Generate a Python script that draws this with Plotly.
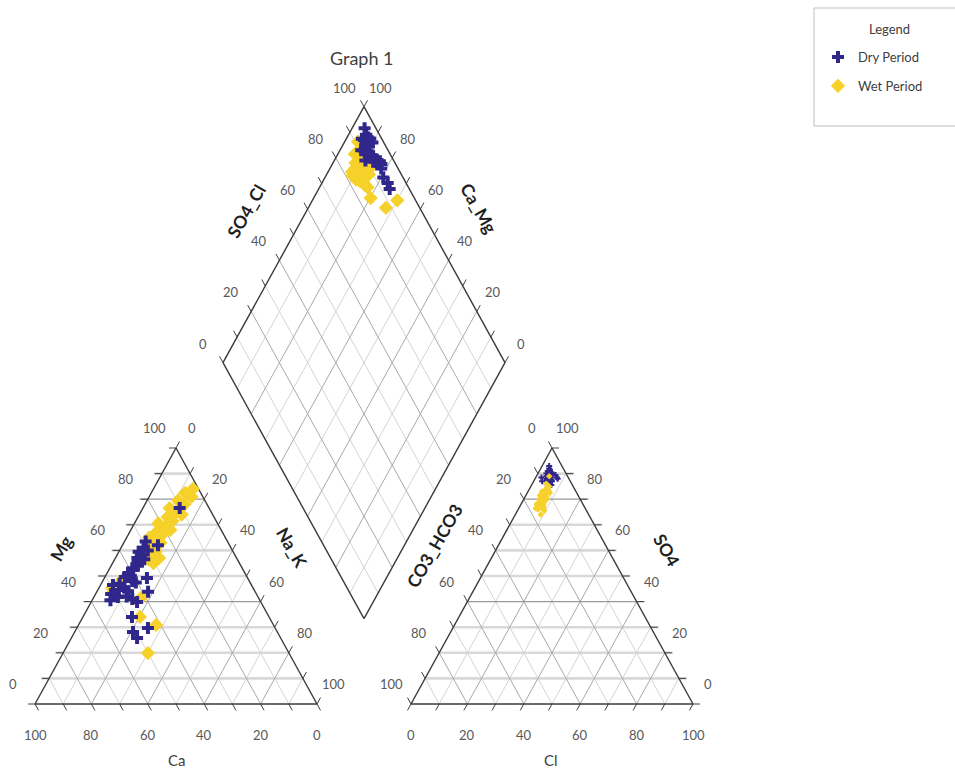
import math
import plotly.graph_objects as go

# ---------------- sample compositions (% of meq/L) ----------------
# Dry period: cations
dry_ca = [10.4, 25.4, 29.0, 31.0, 33.5, 33.5, 35.2, 35.9, 36.5, 39.0, 39.0, 41.5,
          41.0, 43.3, 35.7, 41.5, 46.5, 49.1, 45.5, 48.0, 38.0, 51.5, 46.5, 49.7,
          53.0, 43.9, 45.0, 48.6, 45.1, 51.2, 50.9, 33.0, 30.0, 40.5, 45.0]
dry_mg = [76.6, 62.0, 63.5, 61.0, 59.5, 58.0, 57.0, 55.5, 54.0, 53.0, 52.4, 51.0,
          50.0, 49.6, 49.2, 48.0, 47.0, 46.5, 45.5, 44.5, 43.8, 43.0, 42.0, 41.8,
          40.5, 39.8, 41.0, 34.0, 29.7, 28.1, 25.8, 56.5, 60.0, 47.5, 44.0]
dry_na_k = [13.0, 12.6, 7.5, 8.0, 7.0, 8.5, 7.8, 8.6, 9.5, 8.0, 8.6, 7.5,
            9.0, 7.1, 15.1, 10.5, 6.5, 4.4, 9.0, 7.5, 18.2, 5.5, 11.5, 8.5,
            6.5, 16.3, 14.0, 17.4, 25.2, 20.7, 23.3, 10.5, 10.0, 12.0, 11.0]
# Dry period: anions
dry_cl = [4.5, 5.0, 3.5, 4.0, 3.0, 5.5, 4.0, 6.0, 3.5, 5.0, 4.5, 2.5,
          6.5, 3.0, 5.5, 4.0, 5.0, 6.5, 6.0, 2.0, 5.0, 3.0, 5.5, 8.0,
          6.5, 4.5, 7.0, 5.5, 6.0, 4.0, 5.0, 3.5, 7.5, 4.5, 3.0]
dry_so4 = [89.0, 88.5, 91.5, 90.0, 92.0, 87.0, 89.5, 86.0, 90.5, 88.0, 87.5, 93.0,
           85.0, 91.0, 88.0, 88.0, 90.0, 89.5, 87.5, 88.5, 89.0, 90.0, 86.5, 88.0,
           87.0, 90.5, 85.5, 89.5, 87.0, 89.0, 88.5, 89.0, 88.5, 88.5, 87.0]
dry_hco3 = [6.5, 6.5, 5.0, 6.0, 5.0, 7.5, 6.5, 8.0, 6.0, 7.0, 8.0, 4.5,
            8.5, 6.0, 6.5, 8.0, 5.0, 4.0, 6.5, 9.5, 6.0, 7.0, 8.0, 4.0,
            6.5, 5.0, 7.5, 5.0, 7.0, 7.0, 6.5, 7.5, 4.0, 7.0, 10.0]

# Wet period: cations
wet_ca = [2.0, 5.5, 4.0, 9.5, 8.0, 14.0, 12.5, 11.0, 16.5, 15.5, 21.0, 19.5,
          18.0, 23.5, 22.0, 27.0, 25.5, 24.0, 29.0, 29.0, 27.5, 32.5, 31.5, 30.5,
          50.0, 44.9, 41.2, 45.8, 41.6, 50.0, 50.0, 27.5]
wet_mg = [84.0, 82.5, 81.0, 79.5, 78.0, 76.5, 75.0, 74.0, 73.0, 71.5, 70.5, 69.0,
          68.0, 67.0, 66.0, 65.0, 64.0, 63.0, 62.0, 60.5, 59.5, 58.0, 56.5, 55.0,
          45.3, 48.4, 41.8, 34.0, 30.9, 19.9, 44.0, 57.0]
wet_na_k = [14.0, 12.0, 15.0, 11.0, 14.0, 9.5, 12.5, 15.0, 10.5, 13.0, 8.5, 11.5,
            14.0, 9.5, 12.0, 8.0, 10.5, 13.0, 9.0, 10.5, 13.0, 9.5, 12.0, 14.5,
            4.7, 6.7, 17.0, 20.2, 27.5, 30.1, 6.0, 15.5]
# Wet period: anions
wet_cl = [6.0, 7.0, 5.5, 6.5, 8.0, 5.0, 7.5, 6.0, 8.5, 6.5, 7.0, 9.0,
          6.0, 7.5, 5.5, 8.0, 6.5, 7.0, 9.5, 5.5, 8.0, 6.0, 7.5, 6.5,
          5.0, 6.0, 6.5, 7.5, 5.0, 4.5, 8.0, 9.0]
wet_so4 = [84.5, 82.0, 83.0, 80.5, 80.0, 81.5, 78.5, 79.0, 77.0, 77.5, 76.0, 74.0,
           82.0, 81.0, 80.0, 78.0, 79.5, 83.5, 75.5, 78.0, 82.5, 76.5, 80.0, 85.0,
           86.0, 84.0, 79.0, 77.0, 83.0, 89.0, 79.5, 76.0]
wet_hco3 = [9.5, 11.0, 11.5, 13.0, 12.0, 13.5, 14.0, 15.0, 14.5, 16.0, 17.0, 17.0,
            12.0, 11.5, 14.5, 14.0, 14.0, 9.5, 15.0, 16.5, 9.5, 17.5, 12.5, 8.5,
            9.0, 10.0, 14.5, 15.5, 12.0, 6.5, 12.5, 15.0]

tick_values = [0, 20, 40, 60, 80, 100]
tick_text = [str(v) for v in tick_values]

# ---------------- Piper geometry ----------------
H = math.sqrt(3) / 2          # height of a unit-side equilateral triangle
GAP = 100 / 3                 # horizontal gap between the two triangles
XR = 100 + GAP                # left corner of the anion triangle
BX = 100 + GAP / 2            # bottom vertex of the diamond
BY = GAP / 2 * math.sqrt(3)
EXT = 2.5                     # tick overhang
HEXT = 2.9                    # horizontal gridline overhang

# pixel scaling of the figure
SX, SY = 2.82, 2.956
OX, OY = 35.0, 704.0
W, HT = 955, 770


def px(xp, yp):
    """Figure pixel position -> data coordinates."""
    return (xp - OX) / SX, (OY - yp) / SY


def cation_xy(mg, nak):
    return nak + mg / 2, mg * H


def anion_xy(so4, cl):
    return XR + cl + so4 / 2, so4 * H


def diamond_pt(a, b):
    return BX + 0.5 * (b - a), BY + H * (a + b)


def diamond_xy(nak, hco3):
    return diamond_pt(100 - nak, 100 - hco3)


class Lines:
    def __init__(self):
        self.x, self.y = [], []

    def add(self, p, q):
        self.x += [p[0], q[0], None]
        self.y += [p[1], q[1], None]


light = Lines()   # odd grid lines
mid = Lines()     # even grid lines
hlight = Lines()  # thick horizontal grid lines
hdark = Lines()   # darker horizontal grid lines
ticks = Lines()
frame = Lines()


def diag_style(k):
    return mid if k % 20 == 0 else light


# left (cation) triangle
for k in range(10, 100, 10):
    target = hdark if k in (40, 80) else hlight
    target.add((k / 2 - HEXT, k * H), (100 - k / 2, k * H))
    diag_style(k).add((k, 0), (k + (100 - k) / 2, (100 - k) * H))
    diag_style(k).add((100 - k, 0), ((100 - k) / 2, (100 - k) * H))
for k in range(0, 101, 10):
    ticks.add((k / 2, k * H), (k / 2 - EXT, k * H))
    p = (k + (100 - k) / 2, (100 - k) * H)
    ticks.add(p, (p[0] + 0.5 * EXT, p[1] + H * EXT))
    ticks.add((100 - k, 0), (100 - k + 0.5 * EXT, -H * EXT))

# right (anion) triangle
for k in range(10, 100, 10):
    target = hdark if k in (40, 80) else hlight
    target.add((XR + k / 2, k * H), (XR + 100 - k / 2 + HEXT, k * H))
    diag_style(k).add((XR + k, 0), (XR + k + (100 - k) / 2, (100 - k) * H))
    diag_style(k).add((XR + 100 - k, 0), (XR + (100 - k) / 2, (100 - k) * H))
for k in range(0, 101, 10):
    ticks.add((XR + 100 - k / 2, k * H), (XR + 100 - k / 2 + EXT, k * H))
    ticks.add((XR + k, 0), (XR + k - 0.5 * EXT, -H * EXT))
    p = (XR + (100 - k) / 2, (100 - k) * H)
    ticks.add(p, (p[0] - 0.5 * EXT, p[1] + H * EXT))

# diamond
for k in range(10, 100, 10):
    diag_style(k).add(diamond_pt(k, 0), diamond_pt(k, 100))
    diag_style(k).add(diamond_pt(0, k), diamond_pt(100, k))
for k in range(0, 101, 10):
    p = diamond_pt(k, 100)
    ticks.add(p, (p[0] + 0.5 * EXT, p[1] + H * EXT))
    p = diamond_pt(100, k)
    ticks.add(p, (p[0] - 0.5 * EXT, p[1] + H * EXT))

# outlines
for a, b in [((0, 0), (100, 0)), ((100, 0), (50, 100 * H)), ((50, 100 * H), (0, 0)),
             ((XR, 0), (XR + 100, 0)), ((XR + 100, 0), (XR + 50, 100 * H)),
             ((XR + 50, 100 * H), (XR, 0))]:
    frame.add(a, b)
corners = [diamond_pt(0, 0), diamond_pt(100, 0), diamond_pt(100, 100), diamond_pt(0, 100)]
for i in range(4):
    frame.add(corners[i], corners[(i + 1) % 4])

fig = go.Figure()


def line_trace(lines, color, width):
    fig.add_trace(go.Scatter(x=lines.x, y=lines.y, mode="lines",
                             line=dict(color=color, width=width),
                             hoverinfo="skip", showlegend=False))


line_trace(hlight, "#d9d9d9", 2.6)
line_trace(light, "#d4d4d4", 1)
line_trace(mid, "#a9a9a9", 1)
line_trace(hdark, "#9a9a9a", 1.2)
line_trace(ticks, "#404040", 1)
line_trace(frame, "#3a3a3a", 1.4)

BLUE = "#30278c"
YELLOW = "#f6d12a"
dry_marker = dict(symbol="cross", size=10, color=BLUE, line=dict(width=0))
wet_marker = dict(symbol="diamond", size=11, color=YELLOW, line=dict(width=0))

# cation triangle
cx, cy = zip(*[cation_xy(m, n) for m, n in zip(wet_mg, wet_na_k)])
fig.add_trace(go.Scatter(x=cx, y=cy, mode="markers", marker=wet_marker,
                         legendgroup="wet", showlegend=False, name="Wet Period"))
cx, cy = zip(*[cation_xy(m, n) for m, n in zip(dry_mg, dry_na_k)])
fig.add_trace(go.Scatter(x=cx, y=cy, mode="markers", marker=dry_marker,
                         legendgroup="dry", showlegend=False, name="Dry Period"))

# anion triangle (small markers)
ax, ay = zip(*[anion_xy(s, c) for s, c in zip(dry_so4, dry_cl)])
fig.add_trace(go.Scatter(x=ax, y=ay, mode="markers",
                         marker=dict(dry_marker, size=5),
                         legendgroup="dry", showlegend=False, name="Dry Period"))
ax, ay = zip(*[anion_xy(s, c) for s, c in zip(wet_so4, wet_cl)])
fig.add_trace(go.Scatter(x=ax, y=ay, mode="markers",
                         marker=dict(wet_marker, size=5),
                         legendgroup="wet", showlegend=False, name="Wet Period"))

# diamond projection
dx, dy = zip(*[diamond_xy(n, h) for n, h in zip(wet_na_k, wet_hco3)])
fig.add_trace(go.Scatter(x=dx, y=dy, mode="markers", marker=wet_marker,
                         legendgroup="wet", legendrank=2, name="Wet Period"))
dx, dy = zip(*[diamond_xy(n, h) for n, h in zip(dry_na_k, dry_hco3)])
fig.add_trace(go.Scatter(x=dx, y=dy, mode="markers", marker=dry_marker,
                         legendgroup="dry", legendrank=1, name="Dry Period"))

# ---------------- labels ----------------
annotations = []
FAMILY = "Lato, Open Sans, sans-serif"
TICK_FONT = dict(family=FAMILY, size=13, color="#595959")
TITLE_FONT = dict(family=FAMILY, size=17.5, color="#1f1f1f")


def label(x, y, text, dx=0, dy=0, font=TICK_FONT, angle=0):
    annotations.append(dict(x=x, y=y, text=text, showarrow=False, xref="x", yref="y",
                            xanchor="center", yanchor="middle",
                            xshift=dx, yshift=-dy, font=font, textangle=angle))


for v, t in zip(tick_values, tick_text):
    # cation triangle
    label(v / 2, v * H, t, -22, -20)                              # Mg
    label(v + (100 - v) / 2, (100 - v) * H, t, 16, -20)           # Na_K
    label(100 - v, 0, t, 0, 31)                                   # Ca
    # anion triangle
    label(XR + (100 - v) / 2, (100 - v) * H, t, -20, -20)         # CO3_HCO3
    label(XR + 100 - v / 2, v * H, t, 15, -20)                    # SO4
    label(XR + v, 0, t, 0, 31)                                    # Cl
    # diamond
    x, y = diamond_pt(100, v)
    label(x, y, t, -20, -19)                                      # SO4_Cl
    x, y = diamond_pt(v, 100)
    label(x, y, t, 16, -19)                                       # Ca_Mg

bold = dict(TITLE_FONT)
plain = dict(TITLE_FONT, size=15, color="#404040")
for (xp, yp), text, ang, f in [
        ((61, 548), "<b>Mg</b>", -60, bold),
        ((292, 547), "<b>Na_K</b>", 60, bold),
        ((176, 760), "Ca", 0, plain),
        ((246, 211), "<b>SO4_Cl</b>", -60, bold),
        ((479, 208), "<b>Ca_Mg</b>", 60, bold),
        ((434, 546), "<b>CO3_HCO3</b>", -60, bold),
        ((667, 550), "<b>SO4</b>", 60, bold),
        ((551, 760), "Cl", 0, plain)]:
    x, y = px(xp, yp)
    label(x, y, text, font=f, angle=ang)

x, y = px(362, 58)
label(x, y, "Graph 1", font=dict(family=FAMILY, size=18, color="#404040"))

# legend heading
annotations.append(dict(x=889 / W, y=1 - 29 / HT, xref="paper", yref="paper",
                        xanchor="center", yanchor="middle",
                        text="Legend", showarrow=False,
                        font=dict(family=FAMILY, size=13, color="#404040")))

x_lo, _ = px(0, 0)
x_hi, _ = px(W, 0)
_, y_hi = px(0, 0)
_, y_lo = px(0, HT)

fig.update_layout(
    width=W, height=HT, autosize=False,
    margin=dict(l=0, r=0, t=0, b=0),
    paper_bgcolor="white", plot_bgcolor="white",
    xaxis=dict(range=[x_lo, x_hi], visible=False, fixedrange=True),
    yaxis=dict(range=[y_lo, y_hi], visible=False, fixedrange=True),
    annotations=annotations,
    showlegend=True,
    legend=dict(x=818 / W, y=1 - 42 / HT, xanchor="left", yanchor="top",
                bgcolor="rgba(0,0,0,0)", borderwidth=0, tracegroupgap=9,
                font=dict(family=FAMILY, size=13, color="#404040")),
    shapes=[dict(type="rect", xref="paper", yref="paper",
                 x0=814 / W, x1=1.01, y0=1 - 126 / HT, y1=1 - 8 / HT,
                 line=dict(color="#bfbfbf", width=1), fillcolor="rgba(0,0,0,0)")],
)

fig.write_html("out.html")
